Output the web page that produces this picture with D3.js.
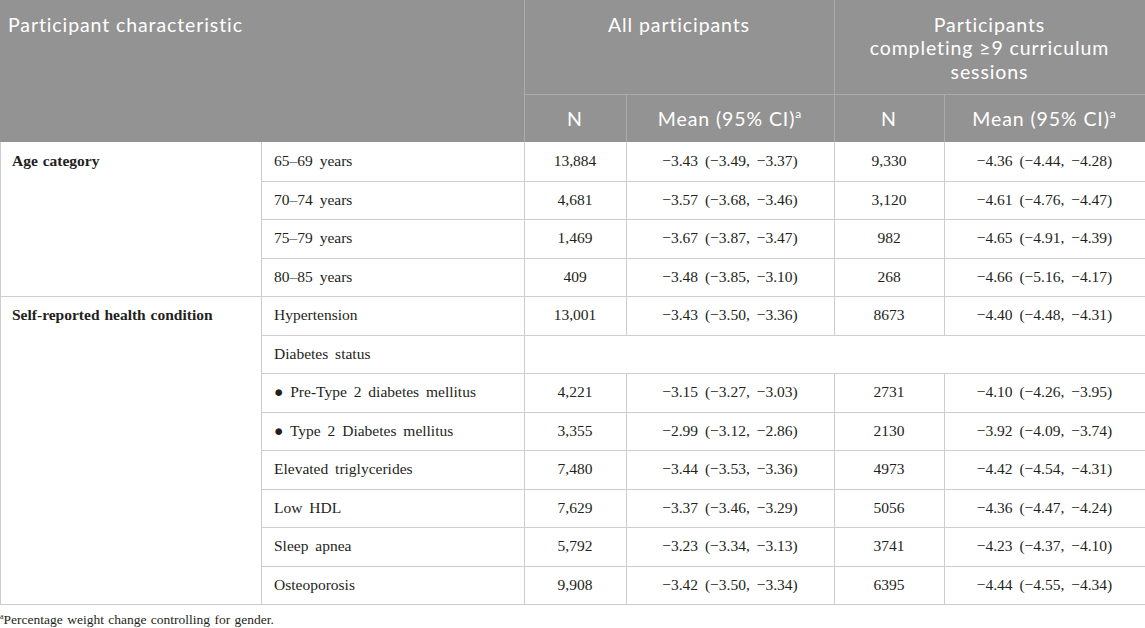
<!DOCTYPE html>
<html>
<head>
<meta charset="utf-8">
<script src="https://cdn.jsdelivr.net/npm/d3@7"></script>
<style>
	html, body { margin: 0; padding: 0; background: #fff; }
	svg { display: block; }
</style>
</head>
<body>
<div id="chart"></div>
<script>
// table contents
var groups = ["Age category", "Self-reported health condition"];
var groupOf = [0, 0, 0, 0, 1, 1, 1, 1, 1, 1, 1, 1];
var characteristics = ["65–69 years", "70–74 years", "75–79 years", "80–85 years",
	"Hypertension", "Diabetes status", "Pre-Type 2 diabetes mellitus", "Type 2 Diabetes mellitus",
	"Elevated triglycerides", "Low HDL", "Sleep apnea", "Osteoporosis"];
var bulleted = [false, false, false, false, false, false, true, true, false, false, false, false];

var allN = ["13,884", "4,681", "1,469", "409", "13,001", null, "4,221", "3,355", "7,480", "7,629", "5,792", "9,908"];
var allMean = [-3.43, -3.57, -3.67, -3.48, -3.43, null, -3.15, -2.99, -3.44, -3.37, -3.23, -3.42];
var allLo = [-3.49, -3.68, -3.87, -3.85, -3.50, null, -3.27, -3.12, -3.53, -3.46, -3.34, -3.50];
var allHi = [-3.37, -3.46, -3.47, -3.10, -3.36, null, -3.03, -2.86, -3.36, -3.29, -3.13, -3.34];

var compN = ["9,330", "3,120", "982", "268", "8673", null, "2731", "2130", "4973", "5056", "3741", "6395"];
var compMean = [-4.36, -4.61, -4.65, -4.66, -4.40, null, -4.10, -3.92, -4.42, -4.36, -4.23, -4.44];
var compLo = [-4.44, -4.76, -4.91, -5.16, -4.48, null, -4.26, -4.09, -4.54, -4.47, -4.37, -4.55];
var compHi = [-4.28, -4.47, -4.39, -4.17, -4.31, null, -3.95, -3.74, -4.31, -4.24, -4.10, -4.34];

var headTop = "Participant characteristic";
var headAll = "All participants";
var headComp = ["Participants", "completing ≥9 curriculum", "sessions"];
var footnote = "Percentage weight change controlling for gender.";

var width = 1145, height = 628;
var edges = [0, 261, 524, 626, 834, 944, 1145];
var headH1 = 94, headH = 142, bodyBottom = 604;
var headFill = "#939393", headLine = "#ababab", gridLine = "#cdcdcd", ink = "#231f20";
var sans = "Lato, 'Open Sans', sans-serif";
var serif = "'Liberation Serif', 'DejaVu Serif', serif";

function num(v) { return v.toFixed(2).replace("-", "−"); }
function ci(m, lo, hi) { return num(m) + " (" + num(lo) + ", " + num(hi) + ")"; }

var y = d3.scaleBand()
	.domain(d3.range(characteristics.length))
	.range([headH, bodyBottom]);

var svg = d3.select("#chart").append("svg")
	.attr("width", width)
	.attr("height", height);

// header block
svg.append("rect")
	.attr("x", 0).attr("y", 0)
	.attr("width", width).attr("height", headH)
	.attr("fill", headFill);

var hl = svg.append("g").attr("stroke", headLine).attr("stroke-width", 1);
hl.append("line").attr("x1", edges[2] + 0.5).attr("x2", edges[2] + 0.5).attr("y1", 0).attr("y2", headH);
hl.append("line").attr("x1", edges[4] + 0.5).attr("x2", edges[4] + 0.5).attr("y1", 0).attr("y2", headH);
hl.append("line").attr("x1", edges[2]).attr("x2", width).attr("y1", headH1 + 0.5).attr("y2", headH1 + 0.5);
hl.append("line").attr("x1", edges[3] + 0.5).attr("x2", edges[3] + 0.5).attr("y1", headH1).attr("y2", headH);
hl.append("line").attr("x1", edges[5] + 0.5).attr("x2", edges[5] + 0.5).attr("y1", headH1).attr("y2", headH);

var ht = svg.append("g")
	.attr("fill", "#fff")
	.style("font-family", sans)
	.style("font-size", "19.5px")
	.style("letter-spacing", "0.9px");

ht.append("text").attr("x", 8).attr("y", 31.5).text(headTop);
ht.append("text").attr("x", (edges[2] + edges[4]) / 2).attr("y", 31.5)
	.attr("text-anchor", "middle").text(headAll);

// three-line group heading
ht.append("text")
	.attr("y", 31.5)
	.attr("text-anchor", "middle")
	.selectAll("tspan")
	.data(headComp)
	.enter()
	.append("tspan")
	.attr("x", (edges[4] + edges[6]) / 2)
	.attr("dy", function(d, i) { return i ? 23.5 : 0; })
	.text(function(d) { return d; });

[[edges[2], edges[3], "N"], [edges[3], edges[4], "Mean (95% CI)"],
 [edges[4], edges[5], "N"], [edges[5], edges[6], "Mean (95% CI)"]].forEach(function(c) {
	var t = ht.append("text")
		.attr("x", (c[0] + c[1]) / 2)
		.attr("y", 126)
		.attr("text-anchor", "middle")
		.text(c[2]);
	if (c[2] !== "N") {
		t.append("tspan").attr("dy", -8).style("font-size", "12px").text("a");
	}
});

// body grid
var grid = svg.append("g").attr("stroke", gridLine).attr("stroke-width", 1);
var idx = d3.range(characteristics.length);

// horizontal row lines from the second column onward
grid.selectAll("line.row")
	.data(idx)
	.enter()
	.append("line")
	.attr("class", "row")
	.attr("x1", edges[1]).attr("x2", width)
	.attr("y1", function(i) { return Math.round(y(i) + y.bandwidth()) + 0.5; })
	.attr("y2", function(i) { return Math.round(y(i) + y.bandwidth()) + 0.5; });

// group boundaries across the first column
var groupEnds = groups.map(function(g, gi) { return d3.max(idx.filter(function(i) { return groupOf[i] === gi; })); });
grid.selectAll("line.grp")
	.data(groupEnds)
	.enter()
	.append("line")
	.attr("class", "grp")
	.attr("x1", 0).attr("x2", edges[1])
	.attr("y1", function(i) { return Math.round(y(i) + y.bandwidth()) + 0.5; })
	.attr("y2", function(i) { return Math.round(y(i) + y.bandwidth()) + 0.5; });

// vertical lines
[0, 1, 2].forEach(function(k) {
	grid.append("line")
		.attr("x1", edges[k] + 0.5).attr("x2", edges[k] + 0.5)
		.attr("y1", headH).attr("y2", bodyBottom + 0.5);
});
[3, 4, 5].forEach(function(k) {
	grid.selectAll(null)
		.data(idx.filter(function(i) { return allN[i] !== null; }))
		.enter()
		.append("line")
		.attr("x1", edges[k] + 0.5).attr("x2", edges[k] + 0.5)
		.attr("y1", function(i) { return y(i); })
		.attr("y2", function(i) { return y(i) + y.bandwidth() + 0.5; });
});

// body text
var body = svg.append("g")
	.attr("fill", ink)
	.style("font-family", serif)
	.style("font-size", "15.5px")
	.style("word-spacing", "3px");

function mid(i) { return y(i) + y.bandwidth() / 2 + 5; }

body.selectAll("text.grp")
	.data(groups)
	.enter()
	.append("text")
	.attr("class", "grp")
	.attr("x", 12)
	.attr("y", function(d, gi) { return mid(groupOf.indexOf(gi)); })
	.style("font-weight", "bold")
	.style("word-spacing", "1px")
	.text(function(d) { return d; });

var rows = body.selectAll("g.r")
	.data(idx)
	.enter()
	.append("g")
	.attr("class", "r");

rows.append("text")
	.attr("x", edges[1] + 13)
	.attr("y", mid)
	.text(function(i) { return bulleted[i] ? "● " + characteristics[i] : characteristics[i]; });

var valueCols = [
	{ k: 2, f: function(i) { return allN[i]; } },
	{ k: 3, f: function(i) { return ci(allMean[i], allLo[i], allHi[i]); } },
	{ k: 4, f: function(i) { return compN[i]; } },
	{ k: 5, f: function(i) { return ci(compMean[i], compLo[i], compHi[i]); } }
];
valueCols.forEach(function(c) {
	rows.filter(function(i) { return allN[i] !== null; })
		.append("text")
		.attr("x", (edges[c.k] + edges[c.k + 1]) / 2)
		.attr("y", mid)
		.attr("text-anchor", "middle")
		.text(c.f);
});

// footnote
var fn = svg.append("text")
	.attr("x", 0)
	.attr("y", 624)
	.attr("fill", ink)
	.style("font-family", serif)
	.style("font-size", "13.5px")
	.style("word-spacing", "1px");
fn.append("tspan").attr("dy", -5).style("font-size", "8px").text("a");
fn.append("tspan").attr("dy", 5).text(footnote);
</script>
</body>
</html>
